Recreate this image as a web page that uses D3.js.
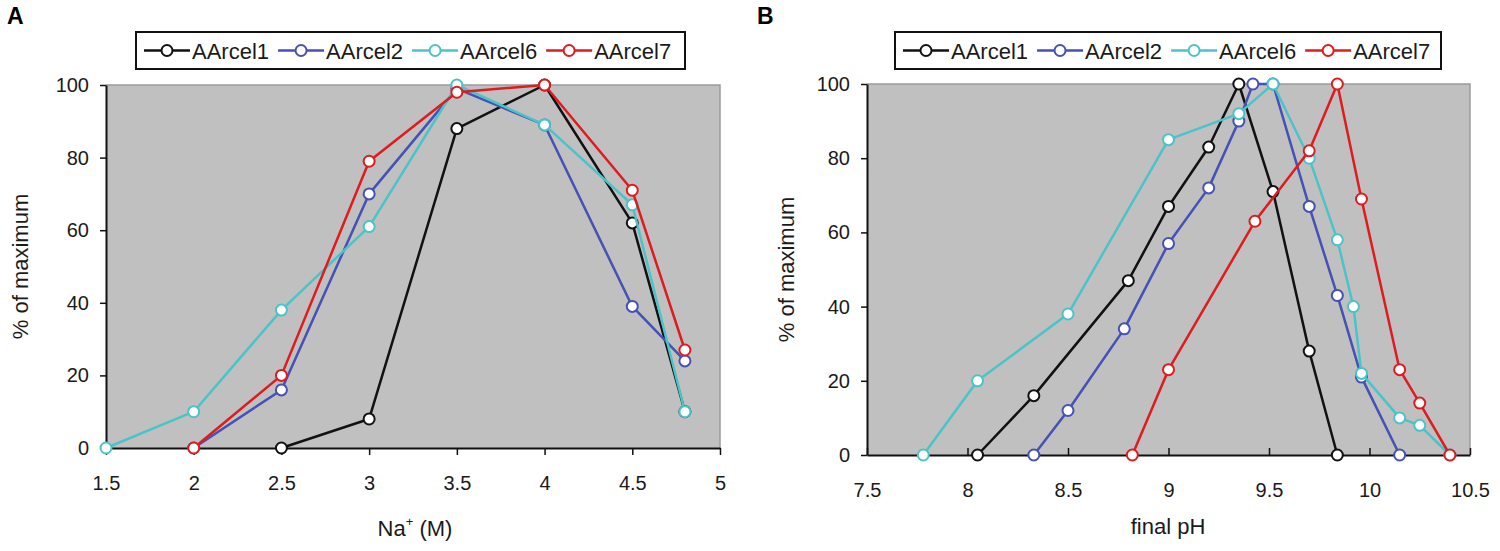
<!DOCTYPE html>
<html>
<head>
<meta charset="utf-8">
<script src="https://cdn.jsdelivr.net/npm/d3@7"></script>
<style>
  body { margin: 0; background: #fff; }
  svg { display: block; font-family: "Liberation Sans", Arial, sans-serif; }
  .tick text { font-size: 20px; fill: #1a1a1a; }
</style>
</head>
<body>
<div id="chart"></div>
<script>
"use strict";

// Series shared by both panels
const seriesNames = ["AArcel1", "AArcel2", "AArcel6", "AArcel7"];
const seriesColors = ["#111111", "#4451b5", "#4cc3c9", "#e01b1f"];

// Panel A: activity vs Na+ concentration (M)
const naX1 = [2.5, 3, 3.5, 4, 4.5, 4.8];
const naY1 = [0, 8, 88, 100, 62, 10];
const naX2 = [2, 2.5, 3, 3.5, 4, 4.5, 4.8];
const naY2 = [0, 16, 70, 99, 89, 39, 24];
const naX6 = [1.5, 2, 2.5, 3, 3.5, 4, 4.5, 4.8];
const naY6 = [0, 10, 38, 61, 100, 89, 67, 10];
const naX7 = [2, 2.5, 3, 3.5, 4, 4.5, 4.8];
const naY7 = [0, 20, 79, 98, 100, 71, 27];
const naTicks = [1.5, 2, 2.5, 3, 3.5, 4, 4.5, 5];

// Panel B: activity vs final pH
const phX1 = [8.05, 8.33, 8.8, 9, 9.2, 9.35, 9.52, 9.7, 9.84];
const phY1 = [0, 16, 47, 67, 83, 100, 71, 28, 0];
const phX2 = [8.33, 8.5, 8.78, 9, 9.2, 9.35, 9.42, 9.52, 9.7, 9.84, 9.96, 10.15];
const phY2 = [0, 12, 34, 57, 72, 90, 100, 100, 67, 43, 21, 0];
const phX6 = [7.78, 8.05, 8.5, 9, 9.35, 9.52, 9.7, 9.84, 9.92, 9.96, 10.15, 10.25, 10.4];
const phY6 = [0, 20, 38, 85, 92, 100, 80, 58, 40, 22, 10, 8, 0];
const phX7 = [8.82, 9, 9.43, 9.7, 9.84, 9.96, 10.15, 10.25, 10.4];
const phY7 = [0, 23, 63, 82, 100, 69, 23, 14, 0];
const phTicks = [7.5, 8, 8.5, 9, 9.5, 10, 10.5];

const yTicks = [0, 20, 40, 60, 80, 100];

function zipSeries(xs, ys) {
  return xs.map((x, i) => ({ x: x, y: ys[i] }));
}

function _main() {
  const svg = d3.select("#chart").append("svg").attr("width", 1500).attr("height", 551);

  drawPanel(svg, {
    letter: "A", letterX: 7,
    left: 106, right: 720, top: 85, bottom: 448,
    xDomain: [1.5, 5], xTicks: naTicks, xTickSize: 7, xPad: 21,
    xTitle: "Na", xTitleSup: "+", xTitleRest: " (M)", xTitleX: 415, xTitleY: 536,
    yTitleX: 20,
    legend: { x: 136, y: 32, w: 549, h: 37 },
    series: [zipSeries(naX1, naY1), zipSeries(naX2, naY2), zipSeries(naX6, naY6), zipSeries(naX7, naY7)],
  });

  drawPanel(svg, {
    letter: "B", letterX: 757,
    left: 867, right: 1470, top: 84, bottom: 455,
    xDomain: [7.5, 10.5], xTicks: phTicks, xTickSize: -7, xPad: 28,
    xTitle: "final pH", xTitleX: 1168, xTitleY: 534,
    yTitleX: 786,
    legend: { x: 895, y: 32, w: 546, h: 37 },
    series: [zipSeries(phX1, phY1), zipSeries(phX2, phY2), zipSeries(phX6, phY6), zipSeries(phX7, phY7)],
  });
}

function drawPanel(svg, p) {
  const xScale = d3.scaleLinear().domain(p.xDomain).range([p.left, p.right]);
  const yScale = d3.scaleLinear().domain([0, 100]).range([p.bottom, p.top]);

  // Panel letter
  svg.append("text")
    .attr("x", p.letterX).attr("y", 24)
    .attr("font-size", 23).attr("font-weight", "bold")
    .text(p.letter);

  // Gray plot area with thin border on top and right
  svg.append("rect")
    .attr("x", p.left).attr("y", p.top)
    .attr("width", p.right - p.left).attr("height", p.bottom - p.top)
    .attr("fill", "#c0c0c0");
  svg.append("path")
    .attr("d", `M${p.left},${p.top}H${p.right}V${p.bottom}`)
    .attr("fill", "none").attr("stroke", "#9a9a9a").attr("stroke-width", 1.5);

  // Y axis
  const yAxis = svg.append("g")
    .attr("transform", `translate(${p.left}, 0)`)
    .call(d3.axisLeft(yScale).tickValues(yTicks).tickSize(6).tickSizeOuter(0).tickPadding(11));
  yAxis.select(".domain").attr("stroke", "#111").attr("stroke-width", 2);
  yAxis.selectAll(".tick line").attr("stroke", "#111").attr("stroke-width", 1.5);

  // X axis
  const xAxis = svg.append("g")
    .attr("transform", `translate(0, ${p.bottom})`)
    .call(d3.axisBottom(xScale).tickValues(p.xTicks).tickSize(p.xTickSize)
      .tickSizeOuter(0).tickPadding(p.xPad).tickFormat(d3.format("~g")));
  xAxis.select(".domain").attr("stroke", "#111").attr("stroke-width", 2);
  xAxis.selectAll(".tick line").attr("stroke", "#111").attr("stroke-width", 1.5);

  // Axis titles
  const xt = svg.append("text")
    .attr("x", p.xTitleX).attr("y", p.xTitleY)
    .attr("text-anchor", "middle").attr("font-size", 22).attr("fill", "#1a1a1a");
  xt.append("tspan").text(p.xTitle);
  if (p.xTitleSup) {
    xt.append("tspan").attr("font-size", 13).attr("dy", -10).text(p.xTitleSup);
    xt.append("tspan").attr("dy", 10).text(p.xTitleRest);
  }

  svg.append("text")
    .attr("transform", `translate(${p.yTitleX}, ${(p.top + p.bottom) / 2}) rotate(-90)`)
    .attr("text-anchor", "middle").attr("dy", "0.35em")
    .attr("font-size", 22).attr("fill", "#1a1a1a")
    .text("% of maximum");

  // Series lines and markers
  const lineGenerator = d3.line().x((d) => xScale(d.x)).y((d) => yScale(d.y));
  p.series.forEach((data, i) => {
    svg.append("path")
      .datum(data)
      .attr("d", lineGenerator)
      .attr("fill", "none")
      .attr("stroke", seriesColors[i])
      .attr("stroke-width", 2.5)
      .attr("stroke-linejoin", "round");
    svg.selectAll(null)
      .data(data)
      .enter()
      .append("circle")
      .attr("cx", (d) => xScale(d.x))
      .attr("cy", (d) => yScale(d.y))
      .attr("r", 5.5)
      .attr("fill", "#fff")
      .attr("stroke", seriesColors[i])
      .attr("stroke-width", 2);
  });

  addLegend(svg, p.legend);
}

function addLegend(svg, box) {
  const g = svg.append("g");
  g.append("rect")
    .attr("x", box.x).attr("y", box.y).attr("width", box.w).attr("height", box.h)
    .attr("fill", "#fff").attr("stroke", "#111").attr("stroke-width", 2);

  const midY = box.y + box.h / 2;
  let cursor = box.x + 8;
  seriesNames.forEach((name, i) => {
    g.append("line")
      .attr("x1", cursor).attr("x2", cursor + 46)
      .attr("y1", midY).attr("y2", midY)
      .attr("stroke", seriesColors[i]).attr("stroke-width", 2.5);
    g.append("circle")
      .attr("cx", cursor + 23).attr("cy", midY).attr("r", 5.5)
      .attr("fill", "#fff").attr("stroke", seriesColors[i]).attr("stroke-width", 2);
    const label = g.append("text")
      .attr("x", cursor + 48).attr("y", midY + 8)
      .attr("font-size", 22).attr("fill", "#1a1a1a")
      .text(name);
    cursor += 48 + label.node().getComputedTextLength() + 9;
  });
}

_main();
</script>
</body>
</html>
